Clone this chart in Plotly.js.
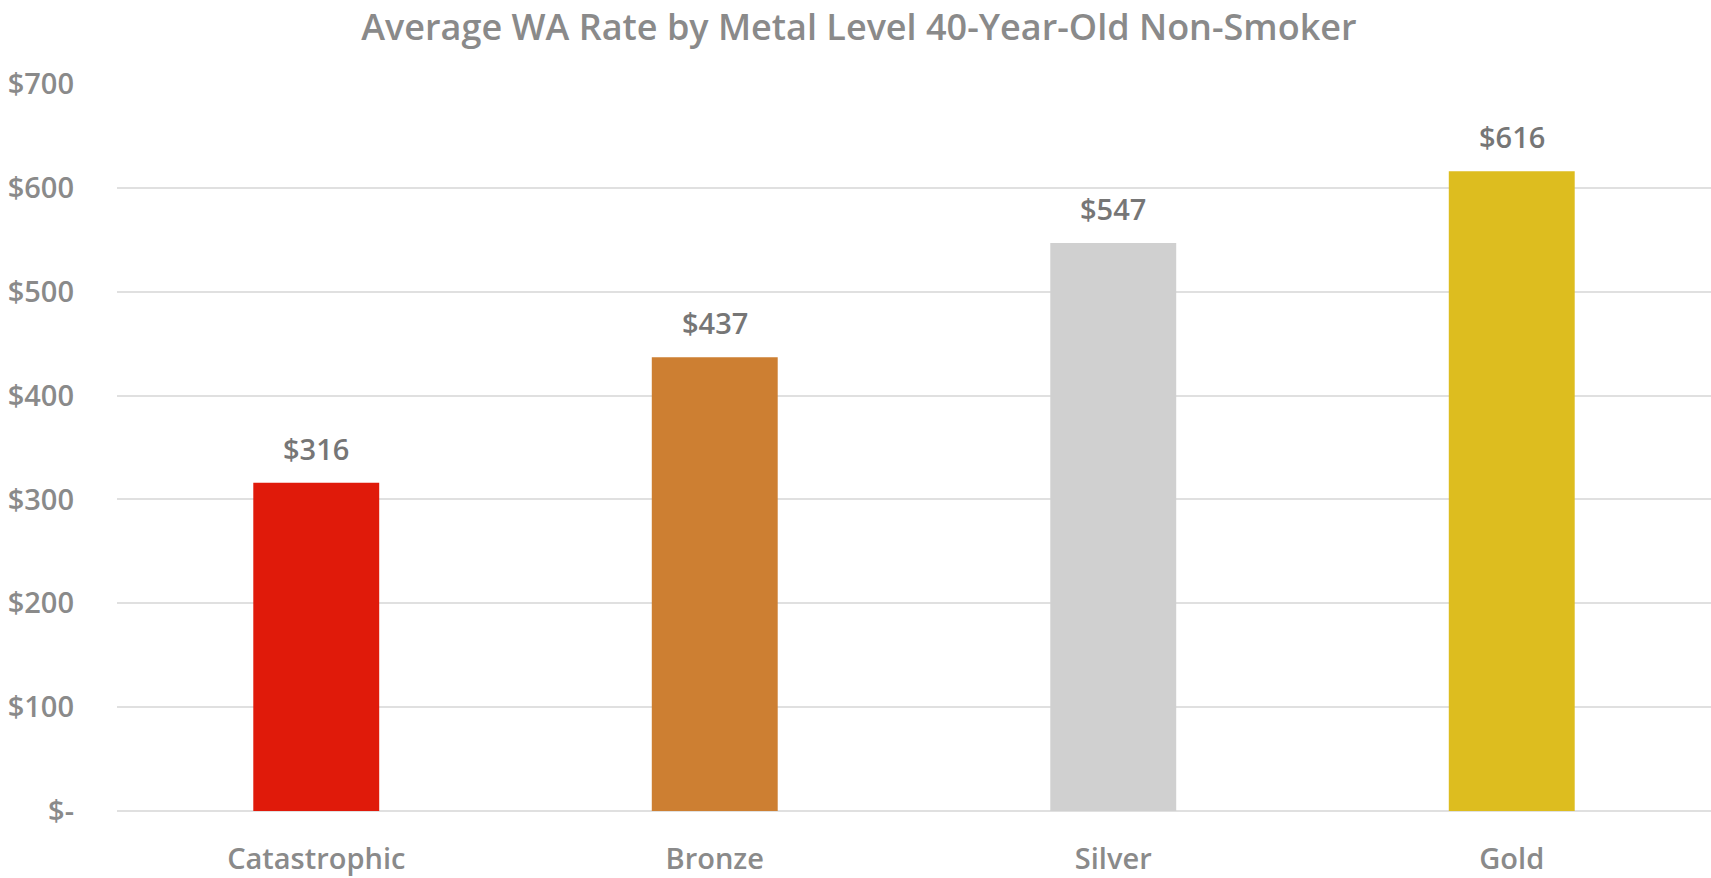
<!DOCTYPE html>
<html>
<head>
<meta charset="utf-8">
<script src="https://cdn.plot.ly/plotly-3.0.1.min.js"></script>
<style>html,body{margin:0;padding:0;background:#fff;}#chart{width:1711px;height:878px;}</style>
</head>
<body>
<div id="chart"></div>
<script>
const categories = ["Catastrophic", "Bronze", "Silver", "Gold"];
const rates = [316, 437, 547, 616];
const barColors = ["#E01A0A", "#CD7F32", "#D0D0D0", "#DDBD1F"];
const tickValues = [0, 100, 200, 300, 400, 500, 600, 700];
const tickLabels = ["$-", "$100", "$200", "$300", "$400", "$500", "$600", "$700"];
const titleText = "Average WA Rate by Metal Level 40-Year-Old Non-Smoker";

const FONT = "'Open Sans', 'Noto Sans', sans-serif";

const trace = {
  type: "bar",
  x: categories,
  y: rates,
  marker: {color: barColors},
  width: 0.316,
  hoverinfo: "none"
};

const annotations = categories.map((c, i) => ({
  x: c, y: rates[i], xref: "x", yref: "y",
  text: "$" + rates[i],
  showarrow: false,
  yanchor: "bottom",
  yshift: 13,
  font: {family: FONT, size: 29, color: "#767676", weight: 600}
}));

const layout = {
  width: 1711, height: 878,
  margin: {l: 117, r: 0, t: 84, b: 67},
  paper_bgcolor: "#ffffff",
  plot_bgcolor: "#ffffff",
  showlegend: false,
  title: {
    text: titleText,
    x: 0.502, xref: "container", xanchor: "center",
    y: 0.969, yref: "container", yanchor: "middle",
    font: {family: FONT, size: 36, color: "#8a8a8a", weight: 600}
  },
  xaxis: {
    type: "category",
    showgrid: false,
    showline: false,
    zeroline: false,
    ticks: "",
    ticklabelstandoff: 28,
    tickfont: {family: FONT, size: 29, color: "#8a8a8a", weight: 600}
  },
  yaxis: {
    range: [0, 700],
    tickvals: tickValues,
    ticktext: tickLabels,
    showgrid: true,
    gridcolor: "#e0e0e0",
    gridwidth: 2,
    zeroline: true,
    zerolinecolor: "#e0e0e0",
    zerolinewidth: 2,
    showline: false,
    ticks: "",
    ticklabelstandoff: 42,
    tickfont: {family: FONT, size: 29, color: "#8a8a8a", weight: 600}
  },
  annotations: annotations
};

Plotly.newPlot("chart", [trace], layout, {displayModeBar: false, staticPlot: true});
</script>
</body>
</html>
